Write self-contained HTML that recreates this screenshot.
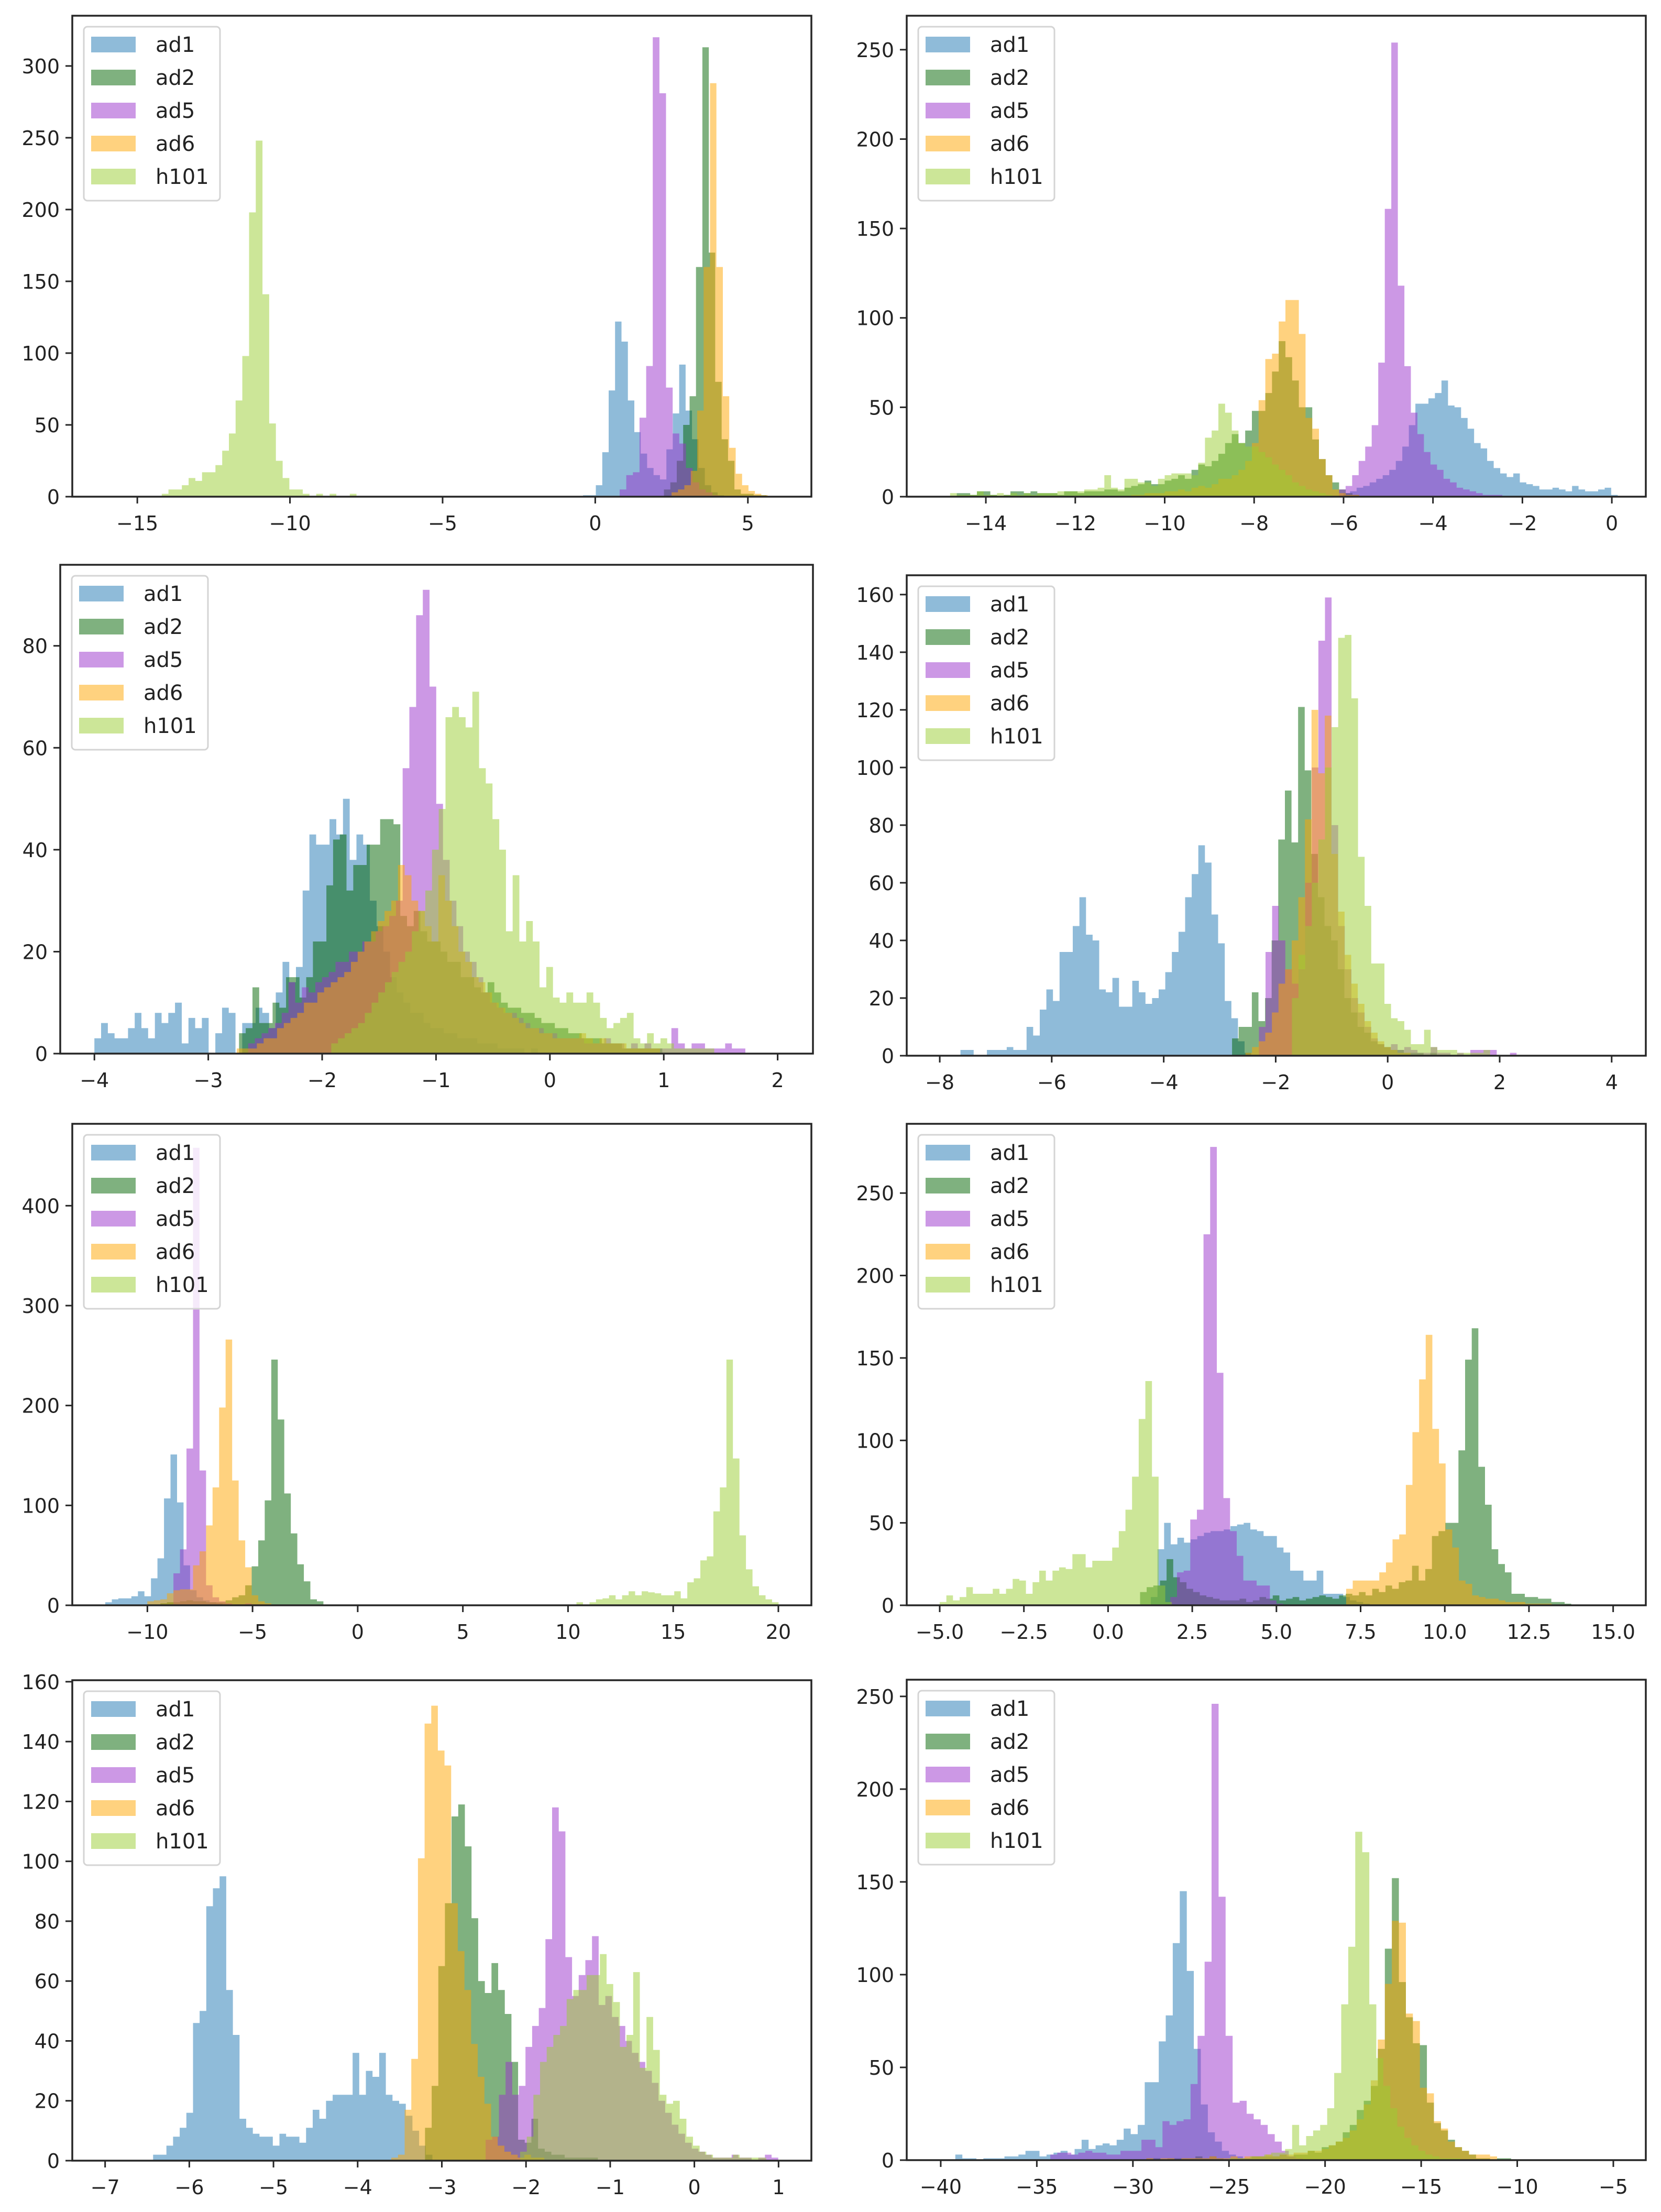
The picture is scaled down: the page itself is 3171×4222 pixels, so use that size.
<!DOCTYPE html>
<html><head><meta charset="utf-8"><style>
html,body{margin:0;padding:0;background:#fff;}
svg{display:block;}
text{font-family:"DejaVu Sans","Liberation Sans",sans-serif;fill:#222;}
</style></head><body>
<svg id="fig" width="3171" height="4222" viewBox="0 0 3171 4222" xmlns="http://www.w3.org/2000/svg"></svg>
<script>
// ---------- data: series names, colours ----------
const SERIES = ["ad1","ad2","ad5","ad6","h101"];
const COLORS = ["#1f77b4","#006400","#9932cc","#ffa500","#9acd32"];

// ---------- panel 1 ----------
const P1_START = [-0.4, 2.25, 0.8, 2.5, -14.2];
const P1_WIDTH = [0.21, 0.21, 0.217, 0.21, 0.22];
const P1_AD1 = [1,1,8,31,74,122,108,67,45,30,20,15,12,33,58,92,60,40,20,8,3,1];
const P1_AD2 = [5,10,25,50,70,160,313,170,80,40,25,5,2,2,1,1];
const P1_AD5 = [5,15,17,55,91,320,281,76,44,37,20,10,5,3,1];
const P1_AD6 = [3,5,8,18,60,160,288,160,70,34,16,8,4,2,1];
const P1_H101 = [2,5,5,8,13,11,17,17,22,32,44,67,98,198,248,141,51,25,13,5,5,2,0,2,0,2,0,0,2];
const P1_XTICKS = [-15,-10,-5,0,5];
const P1_YTICKS = [0,50,100,150,200,250,300];

// ---------- panel 2 ----------
const P2_START = [-6.0, -14.65, -6.1, -10.75, -14.8];
const P2_WIDTH = [0.146, 0.15, 0.146, 0.15, 0.15];
const P2_AD1 = [2,3,5,6,8,10,12,15,20,28,40,52,52,55,58,65,51,50,44,38,30,27,20,16,13,11,13,8,7,6,4,4,5,4,3,6,4,3,3,4,5,1];
const P2_AD2 = [2,2,1,3,3,1,0,1,3,3,2,3,2,2,2,1,3,3,2,3,3,3,4,4,3,5,6,7,9,7,7,9,10,12,10,15,18,17,20,24,30,35,30,37,48,48,58,70,87,78,65,50,50,32,21,12,8,4,2,1];
const P2_AD5 = [4,6,12,20,28,40,75,161,254,118,73,47,35,25,18,15,10,8,5,4,3,2,1,1,1];
const P2_AD6 = [1,1,2,2,2,3,3,4,3,5,6,5,7,10,10,12,15,20,30,54,77,80,98,110,110,91,44,38,21,12,4,2,1,1];
const P2_H101 = [2,1,1,1,3,1,1,2,1,2,1,2,1,2,2,2,3,3,3,3,4,4,5,12,5,4,10,10,8,8,6,10,12,13,13,13,12,19,33,37,52,47,37,30,28,28,25,22,18,15,12,8,6,4,3,2,1];
const P2_XTICKS = [-14,-12,-10,-8,-6,-4,-2,0];
const P2_YTICKS = [0,50,100,150,200,250];

// ---------- panel 3 ----------
const P3_START = [-4.0, -2.73, -2.65, -2.75, -1.92];
const P3_WIDTH = [0.059, 0.059, 0.059, 0.059, 0.059];
const P3_AD1 = [3,6,4,3,3,5,8,5,3,8,6,8,10,2,7,5,7,0,4,9,8,0,6,6,9,8,5,12,18,14,17,32,43,41,41,46,43,50,38,43,41,30,25,20,15,12,10,8,8,6,5,5,4,4,3,3,3,2,2,2,1,1,1,1,0,1];
const P3_AD2 = [4,5,13,6,6,10,9,15,15,11,15,22,22,33,42,43,32,37,37,41,41,46,46,45,27,25,28,24,22,22,20,18,18,15,15,13,12,14,12,10,9,9,8,8,7,6,6,5,5,4,4,3,3,3,2,2,2,1,1,1,1,1,1];
const P3_AD5 = [2,3,4,5,6,8,14,10,13,12,14,15,16,18,18,20,20,22,22,24,25,27,30,56,68,86,91,72,49,38,30,25,20,18,15,12,10,9,8,8,7,6,5,5,4,4,3,3,3,3,2,2,2,3,2,2,1,2,1,2,1,1,1,5,2,1,2,2,1,1,1,2,1,1];
const P3_AD6 = [1,1,1,2,3,3,5,6,7,8,10,10,12,13,14,15,16,18,20,22,24,26,28,30,37,35,30,28,25,22,35,30,25,20,18,15,14,12,10,9,8,7,6,5,5,4,4,3,3,3,3,4,3,2,3,2,2,2,1,1,1,1,1];
const P3_H101 = [2,3,4,5,6,8,10,12,14,16,18,20,24,28,32,40,48,66,68,66,64,71,56,53,46,40,24,35,22,26,22,13,17,11,10,12,10,10,12,10,7,5,6,7,8,3,2,4,2,3,2,1,1,1,1,1,1];
const P3_XTICKS = [-4,-3,-2,-1,0,1,2];
const P3_YTICKS = [0,20,40,60,80];

// ---------- panel 4 ----------
const P4_START = [-7.63, -2.78, -2.3, -2.54, -1.71];
const P4_WIDTH = [0.118, 0.118, 0.118, 0.118, 0.118];
const P4_AD1 = [2,2,0,0,2,2,2,3,2,2,10,7,16,23,19,36,36,45,55,42,40,23,22,27,17,17,26,22,18,20,23,29,36,43,55,63,73,67,49,39,19,13,5,1];
const P4_AD2 = [6,10,10,22,12,20,40,75,92,74,121,99,70,55,45,40,30,20,15,10,8,5,4,3,2,2,1,1,1,0,1];
const P4_AD5 = [10,36,52,40,30,25,30,60,100,144,159,80,45,30,20,15,10,6,4,3,4,2,3,2,1,1,3,1,1,0,1,0,2,2,2,2,0,0,1];
const P4_AD6 = [1,3,5,8,15,25,30,40,55,82,120,98,118,70,50,35,25,18,12,8,5,3,2,1,1];
const P4_H101 = [20,35,45,60,75,100,114,145,146,124,69,52,32,32,18,13,12,9,4,4,9,3,2,2,2,1,1,1,1,2];
const P4_XTICKS = [-8,-6,-4,-2,0,2,4];
const P4_YTICKS = [0,20,40,60,80,100,120,140,160];

// ---------- panel 5 ----------
const P5_START = [-12.0, -10.0, -8.76, -10.0, 10.4];
const P5_WIDTH = [0.31, 0.31, 0.31, 0.31, 0.31];
const P5_AD1 = [3,6,7,7,9,14,9,27,47,107,151,103,40,15,8,5,3,2,1];
const P5_AD2 = [1,1,2,3,3,4,5,4,4,3,3,3,5,8,10,20,39,65,105,246,186,112,72,41,24,6,4];
const P5_AD5 = [32,56,157,458,135,20,8,4,2,1,1,2,1,1];
const P5_AD6 = [4,5,6,12,15,16,16,40,54,80,118,198,266,125,65,38,10,4,2];
const P5_H101 = [3,0,3,6,7,10,6,10,14,10,14,13,12,10,10,14,7,23,27,45,49,94,118,246,147,70,36,19,10,6,3];
const P5_XTICKS = [-10,-5,0,5,10,15,20];
const P5_YTICKS = [0,100,200,300,400];

// ---------- panel 6 ----------
const P6_START = [1.27, 0.95, 1.85, 7.07, -5.0];
const P6_WIDTH = [0.197, 0.197, 0.197, 0.197, 0.197];
const P6_AD1 = [5,34,50,37,41,38,40,42,44,45,45,46,48,49,50,46,45,42,42,35,32,21,21,15,15,21,7,7,7,5,3,2,1];
const P6_AD2 = [8,11,12,15,28,17,14,10,8,6,5,4,3,3,3,4,2,3,5,4,6,3,4,5,3,4,5,6,5,4,6,7,6,8,6,10,8,12,10,14,15,24,15,22,42,45,50,50,94,149,168,84,61,34,25,20,7,7,5,5,4,4,2,2,1];
const P6_AD5 = [5,20,21,52,58,225,278,141,65,45,30,15,15,12,12,3,1];
const P6_AD6 = [10,15,15,15,15,20,26,40,43,73,105,137,164,107,86,46,35,15,13,6,5,4,4,3,2,2,2,1,1,1,1];
const P6_H101 = [2,6,3,5,11,7,7,7,10,7,10,16,15,7,14,21,15,21,23,22,31,31,23,27,27,27,35,45,58,78,113,136,78,12,2];
const P6_XTICKS = [-5,-2.5,0,2.5,5,7.5,10,12.5,15];
const P6_YTICKS = [0,50,100,150,200,250];

// ---------- panel 7 ----------
const P7_START = [-6.43, -3.2, -2.48, -3.6, -2.07];
const P7_WIDTH = [0.079, 0.079, 0.079, 0.079, 0.079];
const P7_AD1 = [2,2,5,8,11,16,46,50,85,91,95,57,42,14,11,9,8,8,5,9,8,8,6,11,17,14,20,22,22,22,36,22,30,28,36,22,20,19,15,10,5,2];
const P7_AD2 = [11,25,65,86,115,119,105,81,60,56,66,57,49,33,7,6,14,4,3,2,2,1,1,1,1,1];
const P7_AD5 = [7,8,22,33,22,25,38,45,51,74,118,110,68,55,62,67,75,52,55,48,45,40,36,33,30,26,20,16,12,9,6,4,3,2,1,1,1,2,1,1,0,1,2,1];
const P7_AD6 = [1,2,17,34,101,146,152,137,132,86,70,57,39,28,19,8,5,3,2,1,2,1,1];
const P7_H101 = [3,8,22,33,38,42,45,54,57,57,62,62,69,59,53,38,42,63,31,48,37,22,19,20,14,8,5,3,2,1,1,1,2,1,1,1,1];
const P7_XTICKS = [-7,-6,-5,-4,-3,-2,-1,0,1];
const P7_YTICKS = [0,20,40,60,80,100,120,140,160];

// ---------- panel 8 ----------
const P8_START = [-39.24, -29.3, -34.3, -29.3, -25.0];
const P8_WIDTH = [0.365, 0.365, 0.365, 0.365, 0.365];
const P8_AD1 = [3,1,1,0,1,1,1,2,2,3,5,5,2,3,4,5,3,6,11,6,8,9,8,11,17,14,19,42,42,64,78,117,145,102,60,30,15,10,5,3,2,1];
const P8_AD2 = [1,1,0,1,1,1,1,2,1,2,1,0,1,1,1,2,2,2,2,3,2,3,3,5,4,7,8,10,15,19,27,32,40,60,114,152,96,77,63,62,31,20,16,11,7,5,3,1,1,0,1,1];
const P8_AD5 = [3,4,4,3,4,5,4,4,3,3,5,5,5,11,11,7,21,19,21,22,41,67,107,246,142,67,31,32,25,22,19,14,10,5,2,1];
const P8_AD6 = [1,0,1,1,0,1,1,1,1,2,1,1,2,1,2,2,2,3,2,3,3,4,4,5,5,6,8,10,12,16,22,30,43,65,95,129,128,79,75,39,36,21,17,10,7,5,3,3,3,2];
const P8_H101 = [1,1,1,2,2,3,4,4,6,19,8,13,16,19,28,47,84,115,177,166,84,55,40,28,18,12,8,5,3,2,1,1,1];
const P8_XTICKS = [-40,-35,-30,-25,-20,-15,-10,-5];
const P8_YTICKS = [0,50,100,150,200,250];

// ---------- layout ----------
const PANELS = [
 {id:1, box:[138,30,1549,948],   xr:[-17.13,7.08],  ymax:335,   start:P1_START, width:P1_WIDTH, counts:[P1_AD1,P1_AD2,P1_AD5,P1_AD6,P1_H101], xt:P1_XTICKS, yt:P1_YTICKS, dec:0},
 {id:2, box:[1731,30,3142,948],  xr:[-15.77,0.76],  ymax:269,   start:P2_START, width:P2_WIDTH, counts:[P2_AD1,P2_AD2,P2_AD5,P2_AD6,P2_H101], xt:P2_XTICKS, yt:P2_YTICKS, dec:0},
 {id:3, box:[115,1078,1552,2011],xr:[-4.30,2.31],   ymax:95.9,  start:P3_START, width:P3_WIDTH, counts:[P3_AD1,P3_AD2,P3_AD5,P3_AD6,P3_H101], xt:P3_XTICKS, yt:P3_YTICKS, dec:0},
 {id:4, box:[1731,1098,3142,2015],xr:[-8.59,4.61],  ymax:166.7, start:P4_START, width:P4_WIDTH, counts:[P4_AD1,P4_AD2,P4_AD5,P4_AD6,P4_H101], xt:P4_XTICKS, yt:P4_YTICKS, dec:0},
 {id:5, box:[138,2145,1549,3064],xr:[-13.57,21.57], ymax:482,   start:P5_START, width:P5_WIDTH, counts:[P5_AD1,P5_AD2,P5_AD5,P5_AD6,P5_H101], xt:P5_XTICKS, yt:P5_YTICKS, dec:0},
 {id:6, box:[1731,2145,3142,3064],xr:[-5.98,15.97], ymax:292,   start:P6_START, width:P6_WIDTH, counts:[P6_AD1,P6_AD2,P6_AD5,P6_AD6,P6_H101], xt:P6_XTICKS, yt:P6_YTICKS, dec:1},
 {id:7, box:[138,3207,1549,4124],xr:[-7.39,1.39],   ymax:160.5, start:P7_START, width:P7_WIDTH, counts:[P7_AD1,P7_AD2,P7_AD5,P7_AD6,P7_H101], xt:P7_XTICKS, yt:P7_YTICKS, dec:0},
 {id:8, box:[1731,3206,3142,4123],xr:[-41.77,-3.31],ymax:259,   start:P8_START, width:P8_WIDTH, counts:[P8_AD1,P8_AD2,P8_AD5,P8_AD6,P8_H101], xt:P8_XTICKS, yt:P8_YTICKS, dec:0}
];

const NS = "http://www.w3.org/2000/svg";
const fig = document.getElementById("fig");
function mk(tag, attrs, parent){
  const e = document.createElementNS(NS, tag);
  for (const k in attrs) e.setAttribute(k, attrs[k]);
  parent.appendChild(e);
  return e;
}
function fmt(v, dec){
  const s = Math.abs(v).toFixed(dec);
  return (v < 0 ? "\u2212" : "") + s;
}

PANELS.forEach(p => {
  const [L,T,R,B] = p.box;
  const xs = v => L + (v - p.xr[0]) / (p.xr[1] - p.xr[0]) * (R - L);
  const ys = v => B - v / p.ymax * (B - T);
  const g = mk("g", {}, fig);
  
  
  const clipId = "clip" + p.id;
  const cp = mk("clipPath", {id: clipId}, g);
  mk("rect", {x:L, y:T, width:R-L, height:B-T}, cp);
  const bars = mk("g", {"clip-path": "url(#" + clipId + ")"}, g);
  
  

  p.counts.forEach((arr, si) => {
    const s0 = p.start[si], w = p.width[si];
    let d = "M" + xs(s0).toFixed(1) + " " + B;
    arr.forEach((c, i) => {
      const x0 = xs(s0 + i * w), x1 = xs(s0 + (i + 1) * w), y = ys(c);
      d += " L" + x0.toFixed(1) + " " + y.toFixed(1) + " L" + x1.toFixed(1) + " " + y.toFixed(1);
    });
    d += " L" + xs(s0 + arr.length * w).toFixed(1) + " " + B + " Z";
    const path = mk("path", {d: d, fill: COLORS[si], "fill-opacity": 0.5}, bars);
    
    
  });

  const frame = mk("rect", {x:L, y:T, width:R-L, height:B-T, fill:"none", stroke:"#262626", "stroke-width":3.5}, g);
  
  

  p.xt.forEach(v => {
    const x = xs(v);
    const tk = mk("line", {x1:x, y1:B, x2:x, y2:B+13, stroke:"#262626", "stroke-width":3}, g);
    
    
    const t = mk("text", {x:x, y:B+64, "text-anchor":"middle", "font-size":38}, g);
    t.textContent = fmt(v, p.dec);
    
    
  });
  p.yt.forEach(v => {
    const y = ys(v);
    const tk = mk("line", {x1:L-13, y1:y, x2:L, y2:y, stroke:"#262626", "stroke-width":3}, g);
    
    
    const t = mk("text", {x:L-24, y:y+14, "text-anchor":"end", "font-size":38}, g);
    t.textContent = fmt(v, 0);
    
    
  });

  const lg = mk("g", {}, g);
  
  
  const bx = L + 22, by = T + 21;
  mk("rect", {x:bx, y:by, width:260, height:332, rx:7, fill:"#fff", "fill-opacity":0.8, stroke:"#d4d4d4", "stroke-width":3}, lg);
  SERIES.forEach((name, i) => {
    const cy = by + 34 + i * 63;
    const ent = mk("g", {}, lg);
    
    
    mk("rect", {x:bx+14, y:cy-15, width:85, height:30, fill:COLORS[i], "fill-opacity":0.5}, ent);
    const t = mk("text", {x:bx+137, y:cy+14, "font-size":40}, ent);
    t.textContent = name;
  });
});
</script>
</body></html>
